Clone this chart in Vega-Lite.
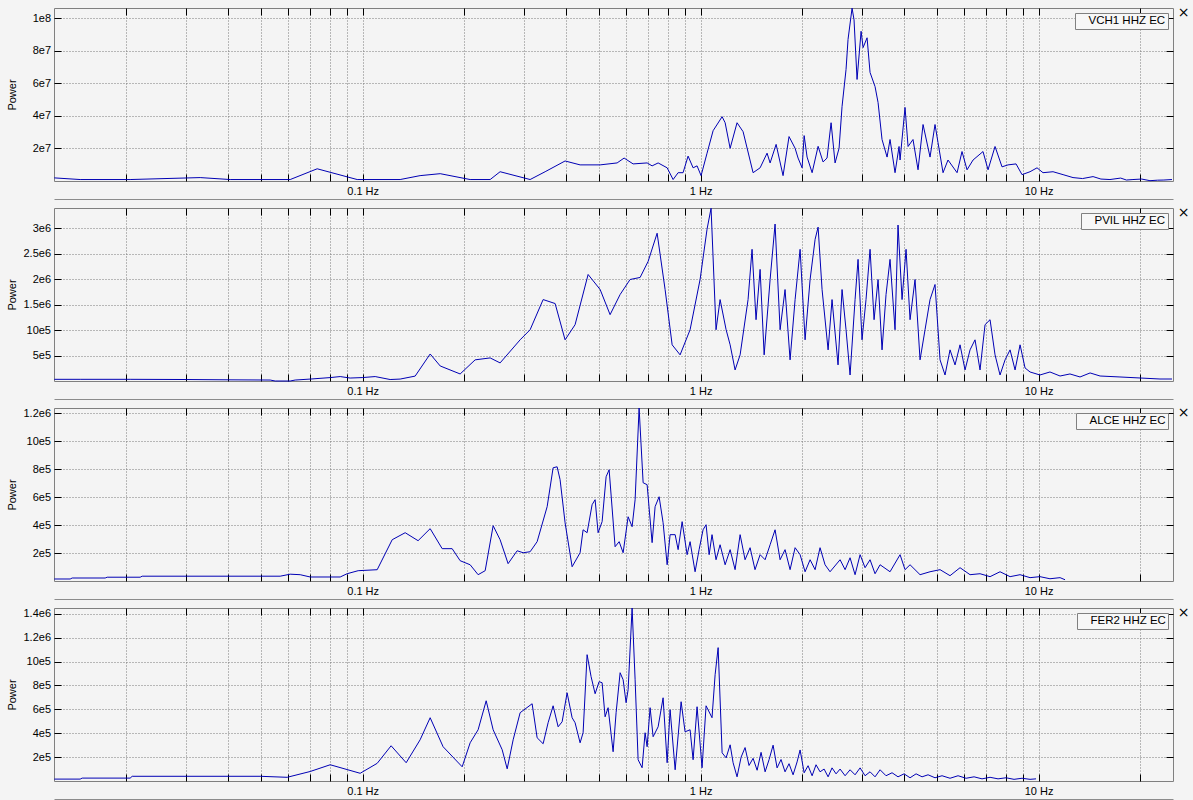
{
  "$schema": "https://vega.github.io/schema/vega-lite/v6.json",
  "background": "#f4f4f4",
  "padding": {"left": 5, "top": 5, "right": 40, "bottom": 40},
  "spacing": 27,
  "bounds": "flush",
  "config": {
    "view": {"stroke": "#808080", "strokeWidth": 1, "fill": "#f4f4f4"},
    "axis": {"labelFont": "Liberation Sans", "labelFontSize": 11, "labelColor": "#000", "titleFont": "Liberation Sans", "titleFontSize": 11, "titleFontWeight": "normal", "titleColor": "#000", "tickColor": "#000", "tickSize": -7, "tickWidth": 1, "domain": false, "gridColor": "#7a7a7a", "gridDash": [1, 2], "gridWidth": 1, "gridOpacity": 1, "labelFlush": false, "labelOverlap": false},
    "legend": {"orient": "top-right", "offset": 5, "padding": 2, "strokeColor": "#808080", "fillColor": "#f7f7f7", "symbolSize": 0, "symbolStrokeWidth": 0, "symbolOpacity": 0, "labelOffset": 0, "labelFont": "Liberation Sans", "labelFontSize": 11.5, "labelColor": "#000", "cornerRadius": 0}
  },
  "resolve": {"scale": {"x": "independent", "y": "independent", "color": "independent"}},
  "datasets": {
    "vch1": [
      {"f":0.01223,"p":1.92e6},{"f":0.01459,"p":0.9e6},{"f":0.02051,"p":0.9e6},{"f":0.03305,"p":2.1e6},{"f":0.04055,"p":0.9e6},{"f":0.06103,"p":0.9e6},{"f":0.07335,"p":7.5e6},{"f":0.09632,"p":0.9e6},{"f":0.1291,"p":0.9e6},{"f":0.1479,"p":3.3e6},{"f":0.1696,"p":4.5e6},{"f":0.208,"p":0.9e6},{"f":0.2384,"p":0.9e6},{"f":0.2551,"p":5.7e6},{"f":0.313,"p":0.9e6},{"f":0.3467,"p":5.7e6},{"f":0.3972,"p":12.3e6},{"f":0.44,"p":9.9e6},{"f":0.5044,"p":9.9e6},{"f":0.5662,"p":11.1e6},{"f":0.5938,"p":14.1e6},{"f":0.6314,"p":10.5e6},{"f":0.6946,"p":11.1e6},{"f":0.7187,"p":9.3e6},{"f":0.7488,"p":11.1e6},{"f":0.7962,"p":8.1e6},{"f":0.8293,"p":0.9e6},{"f":0.858,"p":5.1e6},{"f":0.8875,"p":5.1e6},{"f":0.9183,"p":15.3e6},{"f":0.9502,"p":8.1e6},{"f":0.9763,"p":9.3e6},{"f":1.0034,"p":3.3e6},{"f":1.045,"p":17.1e6},{"f":1.089,"p":30.9e6},{"f":1.158,"p":39.5e6},{"f":1.182,"p":35.8e6},{"f":1.223,"p":20.1e6},{"f":1.282,"p":35.8e6},{"f":1.336,"p":30.3e6},{"f":1.43,"p":5.1e6},{"f":1.5,"p":8.1e6},{"f":1.573,"p":17.1e6},{"f":1.606,"p":11.1e6},{"f":1.673,"p":22.5e6},{"f":1.754,"p":3.3e6},{"f":1.827,"p":27.3e6},{"f":1.904,"p":20.1e6},{"f":1.943,"p":14.1e6},{"f":1.997,"p":8.1e6},{"f":2.025,"p":27.9e6},{"f":2.066,"p":14.7e6},{"f":2.138,"p":5.1e6},{"f":2.227,"p":21.3e6},{"f":2.304,"p":11.7e6},{"f":2.367,"p":14.1e6},{"f":2.433,"p":35.8e6},{"f":2.5,"p":11.1e6},{"f":2.569,"p":20.1e6},{"f":2.622,"p":45.8e6},{"f":2.694,"p":68.5e6},{"f":2.731,"p":87e6},{"f":2.807,"p":106.2e6},{"f":2.845,"p":99e6},{"f":2.904,"p":62.4e6},{"f":2.985,"p":92e6},{"f":3.026,"p":82e6},{"f":3.109,"p":88e6},{"f":3.173,"p":66.7e6},{"f":3.283,"p":58e6},{"f":3.351,"p":48.2e6},{"f":3.443,"p":25.5e6},{"f":3.563,"p":14.7e6},{"f":3.636,"p":25.5e6},{"f":3.762,"p":5.1e6},{"f":3.866,"p":21.2e6},{"f":3.893,"p":12.9e6},{"f":4.027,"p":45.2e6},{"f":4.111,"p":21.2e6},{"f":4.252,"p":25.5e6},{"f":4.4,"p":6.9e6},{"f":4.553,"p":34.7e6},{"f":4.775,"p":14.7e6},{"f":4.94,"p":34.7e6},{"f":5.042,"p":23.6e6},{"f":5.217,"p":5.1e6},{"f":5.397,"p":12.9e6},{"f":5.741,"p":5.1e6},{"f":5.938,"p":18.1e6},{"f":6.144,"p":6.9e6},{"f":6.401,"p":12.9e6},{"f":6.851,"p":18.1e6},{"f":7.089,"p":6.9e6},{"f":7.436,"p":21.2e6},{"f":7.798,"p":8.7e6},{"f":8.124,"p":9.9e6},{"f":8.58,"p":10.5e6},{"f":8.937,"p":3.9e6},{"f":9.438,"p":5.7e6},{"f":9.899,"p":8.1e6},{"f":10.31,"p":5.1e6},{"f":11.04,"p":5.7e6},{"f":11.82,"p":3.9e6},{"f":12.65,"p":2.1e6},{"f":13.5,"p":1.5e6},{"f":14.5,"p":2.7e6},{"f":15.3,"p":1.2e6},{"f":16.27,"p":0.9e6},{"f":17.5,"p":1.8e6},{"f":18.2,"p":0.6e6},{"f":19.03,"p":0.9e6},{"f":20.2,"p":1.2e6},{"f":21.37,"p":0.2e6},{"f":22.5,"p":0.5e6},{"f":23.5,"p":0.6e6},{"f":24.83,"p":0.9e6}
    ],
    "pvil": [
      {"f":0.01223,"p":0.033e6},{"f":0.01459,"p":0.033e6},{"f":0.02051,"p":0.033e6},{"f":0.03004,"p":0.029e6},{"f":0.04,"p":0.023e6},{"f":0.05325,"p":0.019e6},{"f":0.0551,"p":0},{"f":0.06103,"p":0},{"f":0.06314,"p":0.019e6},{"f":0.06994,"p":0.038e6},{"f":0.08016,"p":0.067e6},{"f":0.0858,"p":0.087e6},{"f":0.09183,"p":0.058e6},{"f":0.09966,"p":0.067e6},{"f":0.1089,"p":0.087e6},{"f":0.1206,"p":0.029e6},{"f":0.1291,"p":0.038e6},{"f":0.143,"p":0.096e6},{"f":0.1584,"p":0.53e6},{"f":0.1696,"p":0.295e6},{"f":0.1943,"p":0.138e6},{"f":0.2152,"p":0.415e6},{"f":0.2384,"p":0.453e6},{"f":0.2551,"p":0.355e6},{"f":0.2924,"p":0.808e6},{"f":0.313,"p":1.006e6},{"f":0.342,"p":1.598e6},{"f":0.3711,"p":1.52e6},{"f":0.3972,"p":0.808e6},{"f":0.4252,"p":1.105e6},{"f":0.4647,"p":2.09e6},{"f":0.5044,"p":1.795e6},{"f":0.5397,"p":1.302e6},{"f":0.5779,"p":1.697e6},{"f":0.6185,"p":1.992e6},{"f":0.6622,"p":2.032e6},{"f":0.6994,"p":2.347e6},{"f":0.7436,"p":2.9e6},{"f":0.7852,"p":1.795e6},{"f":0.8238,"p":0.71e6},{"f":0.8697,"p":0.513e6},{"f":0.9309,"p":1.006e6},{"f":0.9966,"p":1.992e6},{"f":1.045,"p":2.98e6},{"f":1.074,"p":3.39e6},{"f":1.111,"p":1.006e6},{"f":1.142,"p":1.598e6},{"f":1.19,"p":1.006e6},{"f":1.223,"p":0.71e6},{"f":1.265,"p":0.217e6},{"f":1.309,"p":0.513e6},{"f":1.382,"p":1.598e6},{"f":1.42,"p":2.584e6},{"f":1.459,"p":1.203e6},{"f":1.5,"p":2.19e6},{"f":1.542,"p":0.513e6},{"f":1.606,"p":1.992e6},{"f":1.661,"p":3.08e6},{"f":1.719,"p":1.006e6},{"f":1.778,"p":1.795e6},{"f":1.84,"p":0.415e6},{"f":1.904,"p":1.598e6},{"f":1.97,"p":2.584e6},{"f":2.038,"p":0.808e6},{"f":2.109,"p":1.992e6},{"f":2.182,"p":2.78e6},{"f":2.227,"p":3.02e6},{"f":2.288,"p":1.795e6},{"f":2.384,"p":0.611e6},{"f":2.449,"p":1.598e6},{"f":2.551,"p":0.316e6},{"f":2.622,"p":1.795e6},{"f":2.694,"p":1.006e6},{"f":2.769,"p":0.118e6},{"f":2.865,"p":1.598e6},{"f":2.924,"p":2.387e6},{"f":3.004,"p":0.808e6},{"f":3.087,"p":1.598e6},{"f":3.173,"p":2.584e6},{"f":3.261,"p":1.203e6},{"f":3.351,"p":1.992e6},{"f":3.443,"p":0.611e6},{"f":3.538,"p":1.697e6},{"f":3.636,"p":2.387e6},{"f":3.762,"p":1.006e6},{"f":3.839,"p":3.06e6},{"f":3.946,"p":1.598e6},{"f":4.055,"p":2.584e6},{"f":4.167,"p":1.203e6},{"f":4.311,"p":1.992e6},{"f":4.461,"p":0.415e6},{"f":4.615,"p":1.006e6},{"f":4.775,"p":1.598e6},{"f":4.94,"p":1.894e6},{"f":5.112,"p":0.415e6},{"f":5.289,"p":0.118e6},{"f":5.472,"p":0.611e6},{"f":5.662,"p":0.316e6},{"f":5.858,"p":0.71e6},{"f":6.061,"p":0.217e6},{"f":6.271,"p":0.611e6},{"f":6.488,"p":0.808e6},{"f":6.713,"p":0.217e6},{"f":6.946,"p":1.105e6},{"f":7.187,"p":1.203e6},{"f":7.436,"p":0.513e6},{"f":7.693,"p":0.118e6},{"f":7.962,"p":0.415e6},{"f":8.238,"p":0.611e6},{"f":8.523,"p":0.217e6},{"f":8.818,"p":0.71e6},{"f":9.123,"p":0.256e6},{"f":9.438,"p":0.177e6},{"f":10.1,"p":0.118e6},{"f":10.81,"p":0.177e6},{"f":11.58,"p":0.098e6},{"f":12.39,"p":0.138e6},{"f":13.27,"p":0.079e6},{"f":14.21,"p":0.158e6},{"f":15.21,"p":0.098e6},{"f":17.42,"p":0.079e6},{"f":19.97,"p":0.059e6},{"f":22.88,"p":0.039e6},{"f":24.83,"p":0.039e6}
    ],
    "alce": [
      {"f":0.01223,"p":0.0143e6},{"f":0.01363,"p":0.0143e6},{"f":0.01382,"p":0.0214e6},{"f":0.0173,"p":0.0214e6},{"f":0.01754,"p":0.0271e6},{"f":0.02196,"p":0.0271e6},{"f":0.02226,"p":0.0343e6},{"f":0.03004,"p":0.0343e6},{"f":0.057,"p":0.0343e6},{"f":0.06103,"p":0.0486e6},{"f":0.06533,"p":0.045e6},{"f":0.06994,"p":0.0286e6},{"f":0.0858,"p":0.0286e6},{"f":0.08996,"p":0.0521e6},{"f":0.09698,"p":0.0736e6},{"f":0.1104,"p":0.0807e6},{"f":0.1223,"p":0.295e6},{"f":0.1336,"p":0.345e6},{"f":0.1459,"p":0.288e6},{"f":0.1584,"p":0.374e6},{"f":0.1719,"p":0.231e6},{"f":0.184,"p":0.231e6},{"f":0.1943,"p":0.145e6},{"f":0.208,"p":0.116e6},{"f":0.2196,"p":0.045e6},{"f":0.2304,"p":0.0736e6},{"f":0.2433,"p":0.395e6},{"f":0.2551,"p":0.295e6},{"f":0.2694,"p":0.124e6},{"f":0.2865,"p":0.216e6},{"f":0.2985,"p":0.202e6},{"f":0.313,"p":0.209e6},{"f":0.3283,"p":0.281e6},{"f":0.3515,"p":0.531e6},{"f":0.3661,"p":0.809e6},{"f":0.3762,"p":0.816e6},{"f":0.3839,"p":0.724e6},{"f":0.3972,"p":0.416e6},{"f":0.4167,"p":0.102e6},{"f":0.44,"p":0.202e6},{"f":0.4491,"p":0.366e6},{"f":0.4615,"p":0.345e6},{"f":0.4775,"p":0.545e6},{"f":0.4874,"p":0.581e6},{"f":0.4974,"p":0.345e6},{"f":0.5112,"p":0.424e6},{"f":0.5253,"p":0.745e6},{"f":0.5362,"p":0.795e6},{"f":0.5585,"p":0.245e6},{"f":0.5741,"p":0.281e6},{"f":0.5899,"p":0.202e6},{"f":0.6103,"p":0.459e6},{"f":0.6271,"p":0.388e6},{"f":0.6401,"p":0.581e6},{"f":0.6577,"p":1.236e6},{"f":0.676,"p":0.702e6},{"f":0.6946,"p":0.688e6},{"f":0.7187,"p":0.274e6},{"f":0.7335,"p":0.531e6},{"f":0.7538,"p":0.602e6},{"f":0.7746,"p":0.416e6},{"f":0.7962,"p":0.116e6},{"f":0.8124,"p":0.331e6},{"f":0.8408,"p":0.331e6},{"f":0.858,"p":0.224e6},{"f":0.8818,"p":0.424e6},{"f":0.9123,"p":0.188e6},{"f":0.9309,"p":0.281e6},{"f":0.9632,"p":0.066e6},{"f":0.9899,"p":0.224e6},{"f":1.017,"p":0.366e6},{"f":1.038,"p":0.402e6},{"f":1.06,"p":0.188e6},{"f":1.081,"p":0.331e6},{"f":1.111,"p":0.152e6},{"f":1.142,"p":0.259e6},{"f":1.182,"p":0.116e6},{"f":1.223,"p":0.224e6},{"f":1.265,"p":0.081e6},{"f":1.309,"p":0.331e6},{"f":1.354,"p":0.152e6},{"f":1.401,"p":0.238e6},{"f":1.449,"p":0.081e6},{"f":1.5,"p":0.188e6},{"f":1.552,"p":0.152e6},{"f":1.606,"p":0.259e6},{"f":1.661,"p":0.366e6},{"f":1.719,"p":0.152e6},{"f":1.778,"p":0.224e6},{"f":1.84,"p":0.081e6},{"f":1.904,"p":0.238e6},{"f":1.97,"p":0.188e6},{"f":2.038,"p":0.066e6},{"f":2.109,"p":0.152e6},{"f":2.182,"p":0.081e6},{"f":2.257,"p":0.238e6},{"f":2.335,"p":0.116e6},{"f":2.416,"p":0.066e6},{"f":2.587,"p":0.152e6},{"f":2.677,"p":0.081e6},{"f":2.769,"p":0.166e6},{"f":2.865,"p":0.045e6},{"f":2.965,"p":0.188e6},{"f":3.067,"p":0.095e6},{"f":3.173,"p":0.152e6},{"f":3.283,"p":0.052e6},{"f":3.397,"p":0.116e6},{"f":3.636,"p":0.066e6},{"f":3.893,"p":0.188e6},{"f":4.027,"p":0.081e6},{"f":4.167,"p":0.116e6},{"f":4.461,"p":0.045e6},{"f":4.775,"p":0.066e6},{"f":5.112,"p":0.081e6},{"f":5.472,"p":0.038e6},{"f":5.858,"p":0.095e6},{"f":6.271,"p":0.045e6},{"f":6.713,"p":0.052e6},{"f":7.187,"p":0.031e6},{"f":7.693,"p":0.066e6},{"f":8.238,"p":0.031e6},{"f":8.818,"p":0.045e6},{"f":9.438,"p":0.024e6},{"f":10.1,"p":0.031e6},{"f":10.81,"p":0.016e6},{"f":11.58,"p":0.024e6},{"f":11.98,"p":0.009e6}
    ],
    "fer2": [
      {"f":0.01223,"p":0.0159e6},{"f":0.01459,"p":0.0159e6},{"f":0.01479,"p":0.0243e6},{"f":0.02051,"p":0.0243e6},{"f":0.0208,"p":0.0394e6},{"f":0.04974,"p":0.0394e6},{"f":0.05978,"p":0.031e6},{"f":0.06994,"p":0.0796e6},{"f":0.08016,"p":0.136e6},{"f":0.09831,"p":0.0646e6},{"f":0.1104,"p":0.148e6},{"f":0.1214,"p":0.295e6},{"f":0.1345,"p":0.153e6},{"f":0.1479,"p":0.345e6},{"f":0.1584,"p":0.53e6},{"f":0.173,"p":0.287e6},{"f":0.197,"p":0.119e6},{"f":0.208,"p":0.32e6},{"f":0.2196,"p":0.429e6},{"f":0.232,"p":0.672e6},{"f":0.2433,"p":0.429e6},{"f":0.2587,"p":0.262e6},{"f":0.2677,"p":0.102e6},{"f":0.2788,"p":0.345e6},{"f":0.2924,"p":0.572e6},{"f":0.3173,"p":0.647e6},{"f":0.3283,"p":0.362e6},{"f":0.342,"p":0.312e6},{"f":0.3538,"p":0.488e6},{"f":0.3661,"p":0.63e6},{"f":0.3788,"p":0.454e6},{"f":0.3893,"p":0.496e6},{"f":0.4027,"p":0.739e6},{"f":0.4167,"p":0.53e6},{"f":0.4252,"p":0.488e6},{"f":0.44,"p":0.32e6},{"f":0.4491,"p":0.404e6},{"f":0.4615,"p":1.058e6},{"f":0.4742,"p":0.874e6},{"f":0.4874,"p":0.731e6},{"f":0.5008,"p":0.832e6},{"f":0.5112,"p":0.823e6},{"f":0.5217,"p":0.538e6},{"f":0.5325,"p":0.614e6},{"f":0.551,"p":0.245e6},{"f":0.5623,"p":0.572e6},{"f":0.5779,"p":0.907e6},{"f":0.5899,"p":0.848e6},{"f":0.6019,"p":0.656e6},{"f":0.6103,"p":0.765e6},{"f":0.6271,"p":1.449e6},{"f":0.6401,"p":0.848e6},{"f":0.6533,"p":0.178e6},{"f":0.6713,"p":0.111e6},{"f":0.6851,"p":0.404e6},{"f":0.6946,"p":0.287e6},{"f":0.7089,"p":0.614e6},{"f":0.7236,"p":0.371e6},{"f":0.7488,"p":0.454e6},{"f":0.7746,"p":0.697e6},{"f":0.7962,"p":0.153e6},{"f":0.8124,"p":0.597e6},{"f":0.8408,"p":0.094e6},{"f":0.8757,"p":0.664e6},{"f":0.8996,"p":0.412e6},{"f":0.9309,"p":0.429e6},{"f":0.9502,"p":0.178e6},{"f":0.9763,"p":0.622e6},{"f":1.01,"p":0.111e6},{"f":1.038,"p":0.63e6},{"f":1.081,"p":0.53e6},{"f":1.104,"p":0.89e6},{"f":1.127,"p":1.117e6},{"f":1.158,"p":0.236e6},{"f":1.19,"p":0.194e6},{"f":1.223,"p":0.303e6},{"f":1.248,"p":0.153e6},{"f":1.282,"p":0.035e6},
      {"f":1.318,"p":0.2e6},{"f":1.354,"p":0.28e6},{"f":1.391,"p":0.13e6},{"f":1.43,"p":0.19e6},{"f":1.47,"p":0.09e6},{"f":1.51,"p":0.24e6},{"f":1.552,"p":0.077e6},{"f":1.595,"p":0.18e6},{"f":1.639,"p":0.3e6},{"f":1.684,"p":0.11e6},{"f":1.73,"p":0.18e6},{"f":1.778,"p":0.077e6},{"f":1.827,"p":0.145e6},{"f":1.878,"p":0.052e6},{"f":1.93,"p":0.16e6},{"f":1.97,"p":0.26e6},{"f":2.025,"p":0.069e6},{"f":2.08,"p":0.128e6},{"f":2.138,"p":0.044e6},{"f":2.196,"p":0.136e6},{"f":2.257,"p":0.077e6},{"f":2.32,"p":0.1e6},{"f":2.384,"p":0.035e6},{"f":2.449,"p":0.11e6},{"f":2.517,"p":0.06e6},{"f":2.587,"p":0.1e6},{"f":2.677,"p":0.044e6},{"f":2.769,"p":0.094e6},{"f":2.865,"p":0.052e6},{"f":2.965,"p":0.11e6},{"f":3.067,"p":0.044e6},{"f":3.173,"p":0.077e6},{"f":3.283,"p":0.035e6},{"f":3.397,"p":0.094e6},{"f":3.538,"p":0.044e6},{"f":3.686,"p":0.069e6},{"f":3.839,"p":0.035e6},{"f":4.0,"p":0.06e6},{"f":4.167,"p":0.027e6},{"f":4.342,"p":0.06e6},{"f":4.522,"p":0.035e6},{"f":4.711,"p":0.052e6},{"f":4.94,"p":0.027e6},{"f":5.182,"p":0.044e6},{"f":5.472,"p":0.023e6},{"f":5.779,"p":0.044e6},{"f":6.103,"p":0.023e6},{"f":6.445,"p":0.035e6},{"f":6.805,"p":0.018e6},{"f":7.187,"p":0.031e6},{"f":7.589,"p":0.018e6},{"f":8.016,"p":0.027e6},{"f":8.463,"p":0.014e6},{"f":8.937,"p":0.023e6},{"f":9.438,"p":0.014e6},{"f":9.831,"p":0.018e6}
    ]
  },
  "vconcat": [
    {
      "width": 1119, "height": 173,
      "data": {"name": "vch1"},
      "layer": [
        {"mark": {"type": "line", "strokeWidth": 1},
         "encoding": {
           "x": {"field": "f", "type": "quantitative", "scale": {"type": "log", "domain": [0.012207, 25], "nice": false}, "axis": {"orient": "bottom", "values": [0.02,0.03,0.04,0.05,0.06,0.07,0.08,0.09,0.1,0.2,0.3,0.4,0.5,0.6,0.7,0.8,0.9,1,2,3,4,5,6,7,8,9,10,20], "labelExpr": "datum.value == 0.1 ? '0.1 Hz' : datum.value == 1 ? '1 Hz' : datum.value == 10 ? '10 Hz' : ''", "grid": true, "title": null, "labelPadding": 11}},
           "y": {"field": "p", "type": "quantitative", "scale": {"domain": [0, 1.063e8], "nice": false}, "axis": {"orient": "left", "values": [2e7, 4e7, 6e7, 8e7, 1e8], "labelExpr": "datum.value >= 1e8 ? '1e8' : datum.value >= 1e7 ? (datum.value/1e7) + 'e7' : datum.value > 1.05e6 ? (datum.value/1e6) + 'e6' : (datum.value/1e5) + 'e5'", "grid": true, "title": "Power", "titleX": -39, "titleY": 86.5, "titleBaseline": "alphabetic", "labelPadding": 10.5}},
           "color": {"datum": "VCH1 HHZ EC", "type": "nominal", "scale": {"range": ["#0000b4"]}, "legend": {"title": null}}
         }},
        {"mark": {"type": "line", "opacity": 0},
         "encoding": {
           "x": {"field": "f", "type": "quantitative", "scale": {"type": "log", "domain": [0.012207, 25], "nice": false}, "axis": {"orient": "top", "values": [0.02,0.03,0.04,0.05,0.06,0.07,0.08,0.09,0.1,0.2,0.3,0.4,0.5,0.6,0.7,0.8,0.9,1,2,3,4,5,6,7,8,9,10,20], "labels": false, "grid": false, "title": null, "minExtent": 0, "maxExtent": 0}},
           "y": {"field": "p", "type": "quantitative", "scale": {"domain": [0, 1.063e8], "nice": false}, "axis": {"orient": "right", "values": [2e7, 4e7, 6e7, 8e7, 1e8], "labels": false, "grid": false, "title": "×", "titleAngle": 0, "titleX": 10, "titleY": 4.5, "titleAlign": "center", "titleBaseline": "middle", "titleFont": "DejaVu Sans", "titleFontSize": 14, "minExtent": 0}}
         }},
        {"mark": {"type": "line", "opacity": 0},
         "encoding": {
           "x": {"field": "f", "type": "quantitative", "scale": {"type": "log", "domain": [0.012207, 25], "nice": false}, "axis": {"orient": "bottom", "offset": 18, "domain": true, "domainColor": "#8c8c8c", "ticks": false, "labels": false, "grid": false, "title": null}},
           "y": {"field": "p", "type": "quantitative", "axis": null}
         }}
      ],
      "resolve": {"axis": {"x": "independent", "y": "independent"}}
    },
    {
      "width": 1119, "height": 173,
      "data": {"name": "pvil"},
      "layer": [
        {"mark": {"type": "line", "strokeWidth": 1},
         "encoding": {
           "x": {"field": "f", "type": "quantitative", "scale": {"type": "log", "domain": [0.012207, 25], "nice": false}, "axis": {"orient": "bottom", "values": [0.02,0.03,0.04,0.05,0.06,0.07,0.08,0.09,0.1,0.2,0.3,0.4,0.5,0.6,0.7,0.8,0.9,1,2,3,4,5,6,7,8,9,10,20], "labelExpr": "datum.value == 0.1 ? '0.1 Hz' : datum.value == 1 ? '1 Hz' : datum.value == 10 ? '10 Hz' : ''", "grid": true, "title": null, "labelPadding": 11}},
           "y": {"field": "p", "type": "quantitative", "scale": {"domain": [0, 3.395e6], "nice": false}, "axis": {"orient": "left", "values": [5e5, 1e6, 1.5e6, 2e6, 2.5e6, 3e6], "labelExpr": "datum.value >= 1e8 ? '1e8' : datum.value >= 1e7 ? (datum.value/1e7) + 'e7' : datum.value > 1.05e6 ? (datum.value/1e6) + 'e6' : (datum.value/1e5) + 'e5'", "grid": true, "title": "Power", "titleX": -39, "titleY": 86.5, "titleBaseline": "alphabetic", "labelPadding": 10.5}},
           "color": {"datum": "PVIL HHZ EC", "type": "nominal", "scale": {"range": ["#0000b4"]}, "legend": {"title": null}}
         }},
        {"mark": {"type": "line", "opacity": 0},
         "encoding": {
           "x": {"field": "f", "type": "quantitative", "scale": {"type": "log", "domain": [0.012207, 25], "nice": false}, "axis": {"orient": "top", "values": [0.02,0.03,0.04,0.05,0.06,0.07,0.08,0.09,0.1,0.2,0.3,0.4,0.5,0.6,0.7,0.8,0.9,1,2,3,4,5,6,7,8,9,10,20], "labels": false, "grid": false, "title": null, "minExtent": 0, "maxExtent": 0}},
           "y": {"field": "p", "type": "quantitative", "scale": {"domain": [0, 3.395e6], "nice": false}, "axis": {"orient": "right", "values": [5e5, 1e6, 1.5e6, 2e6, 2.5e6, 3e6], "labels": false, "grid": false, "title": "×", "titleAngle": 0, "titleX": 10, "titleY": 4.5, "titleAlign": "center", "titleBaseline": "middle", "titleFont": "DejaVu Sans", "titleFontSize": 14, "minExtent": 0}}
         }},
        {"mark": {"type": "line", "opacity": 0},
         "encoding": {
           "x": {"field": "f", "type": "quantitative", "scale": {"type": "log", "domain": [0.012207, 25], "nice": false}, "axis": {"orient": "bottom", "offset": 18, "domain": true, "domainColor": "#8c8c8c", "ticks": false, "labels": false, "grid": false, "title": null}},
           "y": {"field": "p", "type": "quantitative", "axis": null}
         }}
      ],
      "resolve": {"axis": {"x": "independent", "y": "independent"}}
    },
    {
      "width": 1119, "height": 173,
      "data": {"name": "alce"},
      "layer": [
        {"mark": {"type": "line", "strokeWidth": 1},
         "encoding": {
           "x": {"field": "f", "type": "quantitative", "scale": {"type": "log", "domain": [0.012207, 25], "nice": false}, "axis": {"orient": "bottom", "values": [0.02,0.03,0.04,0.05,0.06,0.07,0.08,0.09,0.1,0.2,0.3,0.4,0.5,0.6,0.7,0.8,0.9,1,2,3,4,5,6,7,8,9,10,20], "labelExpr": "datum.value == 0.1 ? '0.1 Hz' : datum.value == 1 ? '1 Hz' : datum.value == 10 ? '10 Hz' : ''", "grid": true, "title": null, "labelPadding": 11}},
           "y": {"field": "p", "type": "quantitative", "scale": {"domain": [0, 1.236e6], "nice": false}, "axis": {"orient": "left", "values": [2e5, 4e5, 6e5, 8e5, 1e6, 1.2e6], "labelExpr": "datum.value >= 1e8 ? '1e8' : datum.value >= 1e7 ? (datum.value/1e7) + 'e7' : datum.value > 1.05e6 ? (datum.value/1e6) + 'e6' : (datum.value/1e5) + 'e5'", "grid": true, "title": "Power", "titleX": -39, "titleY": 86.5, "titleBaseline": "alphabetic", "labelPadding": 10.5}},
           "color": {"datum": "ALCE HHZ EC", "type": "nominal", "scale": {"range": ["#0000b4"]}, "legend": {"title": null}}
         }},
        {"mark": {"type": "line", "opacity": 0},
         "encoding": {
           "x": {"field": "f", "type": "quantitative", "scale": {"type": "log", "domain": [0.012207, 25], "nice": false}, "axis": {"orient": "top", "values": [0.02,0.03,0.04,0.05,0.06,0.07,0.08,0.09,0.1,0.2,0.3,0.4,0.5,0.6,0.7,0.8,0.9,1,2,3,4,5,6,7,8,9,10,20], "labels": false, "grid": false, "title": null, "minExtent": 0, "maxExtent": 0}},
           "y": {"field": "p", "type": "quantitative", "scale": {"domain": [0, 1.236e6], "nice": false}, "axis": {"orient": "right", "values": [2e5, 4e5, 6e5, 8e5, 1e6, 1.2e6], "labels": false, "grid": false, "title": "×", "titleAngle": 0, "titleX": 10, "titleY": 4.5, "titleAlign": "center", "titleBaseline": "middle", "titleFont": "DejaVu Sans", "titleFontSize": 14, "minExtent": 0}}
         }},
        {"mark": {"type": "line", "opacity": 0},
         "encoding": {
           "x": {"field": "f", "type": "quantitative", "scale": {"type": "log", "domain": [0.012207, 25], "nice": false}, "axis": {"orient": "bottom", "offset": 18, "domain": true, "domainColor": "#8c8c8c", "ticks": false, "labels": false, "grid": false, "title": null}},
           "y": {"field": "p", "type": "quantitative", "axis": null}
         }}
      ],
      "resolve": {"axis": {"x": "independent", "y": "independent"}}
    },
    {
      "width": 1119, "height": 173,
      "data": {"name": "fer2"},
      "layer": [
        {"mark": {"type": "line", "strokeWidth": 1},
         "encoding": {
           "x": {"field": "f", "type": "quantitative", "scale": {"type": "log", "domain": [0.012207, 25], "nice": false}, "axis": {"orient": "bottom", "values": [0.02,0.03,0.04,0.05,0.06,0.07,0.08,0.09,0.1,0.2,0.3,0.4,0.5,0.6,0.7,0.8,0.9,1,2,3,4,5,6,7,8,9,10,20], "labelExpr": "datum.value == 0.1 ? '0.1 Hz' : datum.value == 1 ? '1 Hz' : datum.value == 10 ? '10 Hz' : ''", "grid": true, "title": null, "labelPadding": 11}},
           "y": {"field": "p", "type": "quantitative", "scale": {"domain": [0, 1.449e6], "nice": false}, "axis": {"orient": "left", "values": [2e5, 4e5, 6e5, 8e5, 1e6, 1.2e6, 1.4e6], "labelExpr": "datum.value >= 1e8 ? '1e8' : datum.value >= 1e7 ? (datum.value/1e7) + 'e7' : datum.value > 1.05e6 ? (datum.value/1e6) + 'e6' : (datum.value/1e5) + 'e5'", "grid": true, "title": "Power", "titleX": -39, "titleY": 86.5, "titleBaseline": "alphabetic", "labelPadding": 10.5}},
           "color": {"datum": "FER2 HHZ EC", "type": "nominal", "scale": {"range": ["#0000b4"]}, "legend": {"title": null}}
         }},
        {"mark": {"type": "line", "opacity": 0},
         "encoding": {
           "x": {"field": "f", "type": "quantitative", "scale": {"type": "log", "domain": [0.012207, 25], "nice": false}, "axis": {"orient": "top", "values": [0.02,0.03,0.04,0.05,0.06,0.07,0.08,0.09,0.1,0.2,0.3,0.4,0.5,0.6,0.7,0.8,0.9,1,2,3,4,5,6,7,8,9,10,20], "labels": false, "grid": false, "title": null, "minExtent": 0, "maxExtent": 0}},
           "y": {"field": "p", "type": "quantitative", "scale": {"domain": [0, 1.449e6], "nice": false}, "axis": {"orient": "right", "values": [2e5, 4e5, 6e5, 8e5, 1e6, 1.2e6, 1.4e6], "labels": false, "grid": false, "title": "×", "titleAngle": 0, "titleX": 10, "titleY": 4.5, "titleAlign": "center", "titleBaseline": "middle", "titleFont": "DejaVu Sans", "titleFontSize": 14, "minExtent": 0}}
         }},
        {"mark": {"type": "line", "opacity": 0},
         "encoding": {
           "x": {"field": "f", "type": "quantitative", "scale": {"type": "log", "domain": [0.012207, 25], "nice": false}, "axis": {"orient": "bottom", "offset": 18, "domain": true, "domainColor": "#8c8c8c", "ticks": false, "labels": false, "grid": false, "title": null}},
           "y": {"field": "p", "type": "quantitative", "axis": null}
         }}
      ],
      "resolve": {"axis": {"x": "independent", "y": "independent"}}
    }
  ]
}
